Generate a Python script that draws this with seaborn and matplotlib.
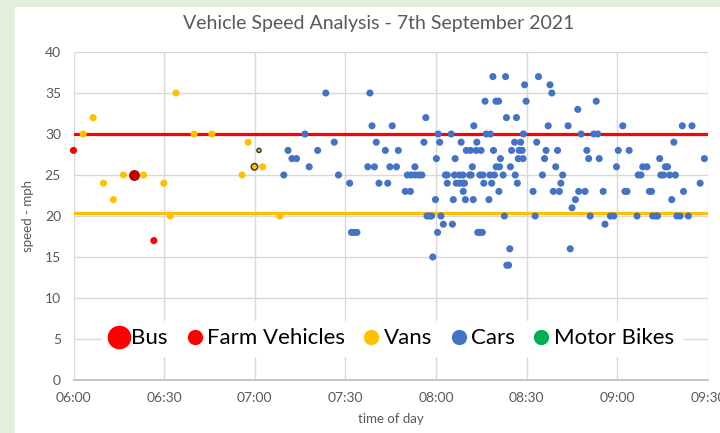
import pandas as pd
import matplotlib
matplotlib.use("Agg")
import matplotlib.pyplot as plt
import matplotlib.dates as mdates
from matplotlib.lines import Line2D
from matplotlib.patches import Rectangle
import seaborn as sns

dia = "2021-09-07 "

# leituras (hora, mph) tiradas do gráfico
bus_hora = ["06:19:54"]
bus_mph = [25]

farm_hora = ["06:00:00", "06:26:36"]
farm_mph = [28, 17]

vans_hora = ["06:03:12", "06:06:30", "06:09:54", "06:13:12", "06:16:30", "06:23:12",
             "06:29:54", "06:32:00", "06:33:54", "06:39:54", "06:45:48", "06:55:48",
             "06:57:48", "07:02:36", "07:08:18"]
vans_mph = [30, 32, 24, 22, 25, 25, 24, 20, 35, 30, 30, 25, 29, 26, 20]

# duas vans marcadas (contorno preto)
vans_marcadas_hora = ["06:59:54", "07:01:24"]
vans_marcadas_mph = [26, 28]

cars_hora = [
    "07:09:36", "07:11:00", "07:12:18", "07:13:48", "07:16:36", "07:18:00", "07:20:48", "07:23:30",
    "07:26:18", "07:27:42", "07:31:24", "07:32:00", "07:32:54", "07:33:48", "07:37:24", "07:38:06",
    "07:38:48", "07:39:36", "07:40:12", "07:41:06", "07:43:12", "07:44:00", "07:44:42", "07:45:30",
    "07:46:54", "07:47:30", "07:49:48", "07:50:30", "07:51:30", "07:51:48", "07:53:00", "07:53:06",
    "07:54:24", "07:55:18", "07:56:00", "07:56:36", "07:57:00", "07:57:54", "07:58:30", "07:58:54",
    "07:59:48", "08:00:06", "08:00:30", "08:00:42", "08:01:12", "08:01:36", "08:02:24", "08:03:06",
    "08:03:42", "08:03:42", "08:05:00", "08:05:24", "08:05:42", "08:06:06", "08:06:18", "08:06:42",
    "08:07:48", "08:07:48", "08:08:18", "08:08:54", "08:08:54", "08:09:00", "08:09:24", "08:09:42",
    "08:10:00", "08:11:06", "08:11:24", "08:11:36", "08:12:00", "08:12:18", "08:12:30", "08:13:18",
    "08:13:30", "08:13:48", "08:14:30", "08:14:30", "08:14:54", "08:15:18", "08:15:30", "08:15:48",
    "08:16:12", "08:16:36", "08:17:30", "08:17:48", "08:18:00", "08:18:24", "08:18:48", "08:19:00",
    "08:19:18", "08:19:48", "08:19:54", "08:20:42", "08:20:48", "08:21:00", "08:21:18", "08:22:12",
    "08:22:36", "08:23:00", "08:23:18", "08:23:24", "08:24:00", "08:24:24", "08:24:36", "08:25:00",
    "08:26:00", "08:26:12", "08:26:36", "08:26:54", "08:27:12", "08:27:30", "08:28:00", "08:28:30",
    "08:28:48", "08:28:54", "08:29:18", "08:29:48", "08:32:06", "08:32:48", "08:33:18", "08:33:54",
    "08:35:12", "08:35:54", "08:36:24", "08:37:06", "08:37:42", "08:38:18", "08:38:48", "08:39:36",
    "08:40:12", "08:40:48", "08:41:18", "08:41:54", "08:43:42", "08:44:24", "08:45:00", "08:46:06",
    "08:46:54", "08:47:12", "08:48:00", "08:49:18", "08:49:54", "08:50:30", "08:51:00", "08:52:12",
    "08:53:00", "08:53:30", "08:54:00", "08:55:18", "08:55:54", "08:57:42", "08:58:48", "08:59:42",
    "09:00:18", "09:01:48", "09:02:30", "09:03:12", "09:03:54", "09:06:30", "09:06:54", "09:07:48",
    "09:08:24", "09:09:48", "09:10:36", "09:11:18", "09:11:42", "09:12:48", "09:13:18", "09:14:00",
    "09:14:24", "09:15:18", "09:15:54", "09:16:36", "09:17:18", "09:18:00", "09:18:42", "09:19:12",
    "09:19:42", "09:20:48", "09:21:30", "09:21:54", "09:23:30", "09:24:42", "09:27:24", "09:28:48"]
cars_mph = [
    25, 28, 27, 27, 30, 26, 28, 35,
    29, 25, 24, 18, 18, 18, 26, 35,
    31, 26, 29, 24, 28, 24, 26, 31,
    26, 28, 23, 25, 23, 25, 26, 25,
    25, 25, 29, 32, 20, 20, 20, 15,
    22, 27, 18, 30, 29, 20, 19, 25,
    25, 24, 30, 19, 22, 25, 27, 24,
    24, 25, 29, 24, 25, 23, 24, 22,
    28, 25, 28, 25, 26, 22, 31, 28,
    29, 18, 18, 25, 28, 18, 25, 24,
    34, 30, 22, 25, 30, 24, 37, 28,
    25, 34, 26, 34, 23, 26, 27, 25,
    20, 37, 32, 14, 14, 16, 26, 28,
    29, 25, 32, 24, 27, 28, 29, 28,
    27, 30, 36, 34, 23, 20, 29, 37,
    25, 27, 28, 31, 36, 35, 23, 26,
    28, 23, 24, 25, 31, 16, 21, 22,
    33, 23, 30, 23, 28, 27, 20, 30,
    34, 30, 27, 23, 19, 20, 20, 26,
    28, 31, 23, 23, 28, 20, 25, 25,
    26, 26, 23, 23, 20, 20, 20, 27,
    25, 25, 26, 26, 25, 22, 29, 25,
    20, 20, 31, 23, 20, 31, 24, 27]

limite_vermelho = 30
limite_amarelo = 20.35

categorias = ["Bus", "Farm Vehicles", "Vans", "Cars", "Motor Bikes"]
cores = {"Bus": "#FF0000", "Farm Vehicles": "#FF0000", "Vans": "#FFC000",
         "Cars": "#4472C4", "Motor Bikes": "#00B050"}
cor_bus_ponto = "#C00000"


def montar(horas, mph, tipo):
    return pd.DataFrame({"hora": pd.to_datetime([dia + h for h in horas]),
                         "mph": mph, "veiculo": tipo})


df = pd.concat([montar(farm_hora, farm_mph, "Farm Vehicles"),
                montar(vans_hora, vans_mph, "Vans"),
                montar(cars_hora, cars_mph, "Cars")], ignore_index=True)
df_bus = montar(bus_hora, bus_mph, "Bus")
df_marc = montar(vans_marcadas_hora, vans_marcadas_mph, "Vans")

sns.set_theme(style="white")
plt.rcParams["font.family"] = ["Lato", "DejaVu Sans"]

fig = plt.figure(figsize=(7.2, 4.33), dpi=100, facecolor="#E2EFDA")
fundo = Rectangle((15 / 720, 0), 1, 1 - 7 / 433, transform=fig.transFigure,
                  facecolor="white", edgecolor="none", zorder=-10)
fig.add_artist(fundo)
ax = fig.add_axes([73.5 / 720, 1 - 380 / 433, (708 - 73.5) / 720, (380 - 52) / 433])
ax.set_zorder(1)
ax.set_facecolor("white")

ax.axhline(limite_vermelho, color="#FF0000", lw=2.3, zorder=1.5)
ax.axhline(limite_amarelo, color="#FFC000", lw=2.3, zorder=1.5)

sns.scatterplot(data=df, x="hora", y="mph", hue="veiculo", palette=cores, s=26,
                linewidth=0, legend=False, ax=ax, zorder=3, clip_on=False)
sns.scatterplot(data=df_bus, x="hora", y="mph", color=cor_bus_ponto, s=62,
                linewidth=0, legend=False, ax=ax, zorder=3)
sns.scatterplot(data=df_marc, x="hora", y="mph", color=cores["Vans"], s=[22, 9],
                edgecolor="#333333", linewidth=1.0, legend=False, ax=ax, zorder=3)

ax.set_xlim(pd.Timestamp(dia + "06:00"), pd.Timestamp(dia + "09:30"))
ax.set_ylim(0, 40)
ax.set_yticks(range(0, 41, 5))
ax.xaxis.set_major_locator(mdates.MinuteLocator(byminute=[0, 30]))
ax.xaxis.set_major_formatter(mdates.DateFormatter("%H:%M"))
ax.grid(True, color="#D9D9D9", lw=1)
ax.set_axisbelow(True)
for lado in ["top", "right", "left"]:
    ax.spines[lado].set_visible(False)
ax.spines["bottom"].set_color("#BFBFBF")
ax.tick_params(axis="both", length=0, labelsize=10, labelcolor="#595959", pad=9)

ax.set_xlabel("time of day", fontsize=9.5, color="#595959", labelpad=6)
ax.set_ylabel("speed - mph", fontsize=9.5, color="#595959", labelpad=8)
fig.text(379 / 720, 1 - 23 / 433, "Vehicle Speed Analysis - 7th September 2021",
         ha="center", va="center", fontsize=14, color="#595959")

tamanhos = {"Bus": 17, "Farm Vehicles": 11, "Vans": 11, "Cars": 11, "Motor Bikes": 11}
alcas = [Line2D([], [], ls="none", marker="o", markersize=tamanhos[c],
                markerfacecolor=cores[c], markeredgewidth=0, label=c) for c in categorias]
leg = ax.legend(handles=alcas, loc="center", bbox_to_anchor=(0.502, 0.127), ncol=5,
                fontsize=16, frameon=True, framealpha=1, edgecolor="white",
                handlelength=0.8, handletextpad=0.15, columnspacing=0.8,
                borderpad=0.35, fancybox=False)
leg.get_frame().set_facecolor("white")
for t in leg.get_texts():
    t.set_color("#000000")

plt.savefig("out.png", dpi=100, facecolor=fig.get_facecolor())
